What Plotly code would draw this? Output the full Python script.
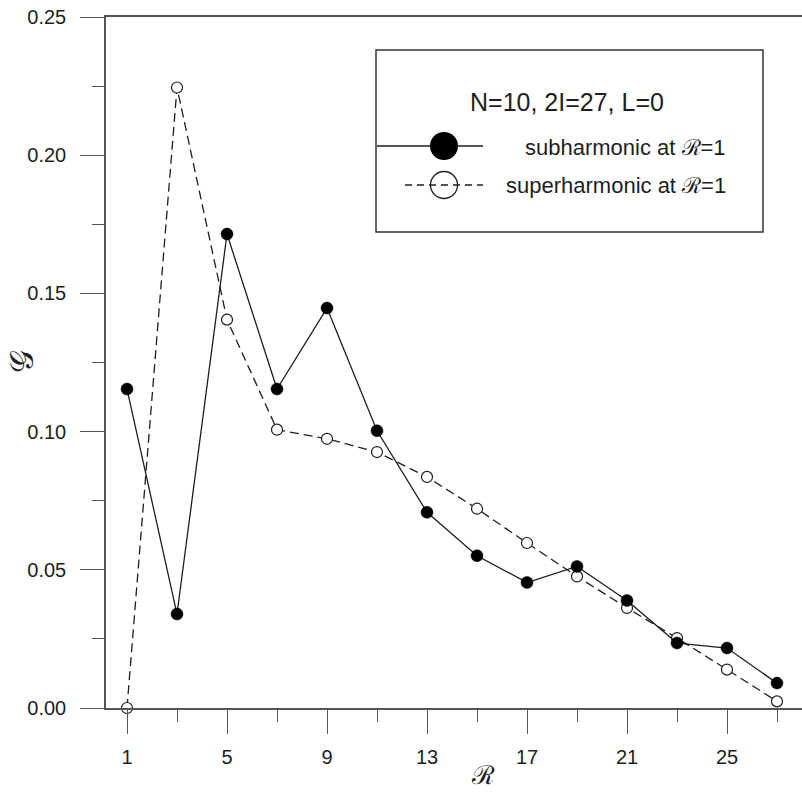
import plotly.graph_objects as go

# ---- data ----
R_values = [1, 3, 5, 7, 9, 11, 13, 15, 17, 19, 21, 23, 25, 27]
subharmonic = [0.1154, 0.0340, 0.1715, 0.1154, 0.1447, 0.1003, 0.0708,
               0.0551, 0.0454, 0.0512, 0.0389, 0.0235, 0.0217, 0.0090]
superharmonic = [0.0000, 0.2245, 0.1405, 0.1007, 0.0974, 0.0926, 0.0836,
                 0.0721, 0.0597, 0.0476, 0.0362, 0.0253, 0.0139, 0.0024]
x_tick_vals = [1, 5, 9, 13, 17, 21, 25]
x_tick_text = ["1", "5", "9", "13", "17", "21", "25"]
y_tick_vals = [0.00, 0.05, 0.10, 0.15, 0.20, 0.25]
y_tick_text = ["0.00", "0.05", "0.10", "0.15", "0.20", "0.25"]
legend_title = "N=10, 2I=27, L=0"
legend_labels = ["subharmonic at \u211b=1", "superharmonic at \u211b=1"]
x_title = "\u211b"
y_title = "\U0001D4A2"

W, H = 802, 793
L_M, R_M, T_M, B_M = 106, 0, 17, 85
PW, PH = W - L_M - R_M, H - T_M - B_M
INK = "#1e1e1e"
AX = "#555555"
FONT = "Liberation Sans, Arial, sans-serif"


def px_x(p):
    return (p - L_M) / PW


def px_y(p):
    return (H - B_M - p) / PH


fig = go.Figure()

# superharmonic (open circles, dashed)
fig.add_trace(go.Scatter(
    x=R_values, y=superharmonic, mode="lines+markers",
    line=dict(color=INK, width=1.3, dash="9px,5px"),
    marker=dict(symbol="circle", size=11, color="white",
                line=dict(color=INK, width=1.2)),
    cliponaxis=False, showlegend=False, name=legend_labels[1]))

# subharmonic (filled circles, solid)
fig.add_trace(go.Scatter(
    x=R_values, y=subharmonic, mode="lines+markers",
    line=dict(color=INK, width=1.3),
    marker=dict(symbol="circle", size=12, color="black", opacity=1,
                line=dict(color="black", width=0.5)),
    cliponaxis=False, showlegend=False, name=legend_labels[0]))

# ---- legend glyphs drawn in an overlay axis measured in pixels ----
fig.add_trace(go.Scatter(
    x=[377, 483], y=[146, 146], xaxis="x2", yaxis="y2", mode="lines",
    line=dict(color=INK, width=1.3),
    hoverinfo="skip", showlegend=False, cliponaxis=False))
fig.add_trace(go.Scatter(
    x=[444], y=[146], xaxis="x2", yaxis="y2", mode="markers",
    marker=dict(size=28, color="black", opacity=1, line=dict(width=0)),
    hoverinfo="skip", showlegend=False, cliponaxis=False))
fig.add_trace(go.Scatter(
    x=[405, 483], y=[185, 185], xaxis="x2", yaxis="y2", mode="lines",
    line=dict(color=INK, width=1.3, dash="7px,5px"),
    hoverinfo="skip", showlegend=False, cliponaxis=False))
fig.add_trace(go.Scatter(
    x=[444], y=[185], xaxis="x2", yaxis="y2", mode="markers",
    marker=dict(size=27, color="rgba(0,0,0,0)", line=dict(color=INK, width=1.3)),
    hoverinfo="skip", showlegend=False, cliponaxis=False))

shapes = [dict(type="rect", xref="x2", yref="y2", x0=376, x1=763, y0=50, y1=232,
               line=dict(color="#333333", width=1.5), fillcolor="rgba(0,0,0,0)")]

annotations = [
    dict(text=legend_title, xref="paper", yref="paper", x=px_x(567), y=px_y(102),
         showarrow=False, font=dict(family=FONT, size=25, color=INK),
         xanchor="center", yanchor="middle"),
    dict(text=legend_labels[0], xref="paper", yref="paper", x=px_x(728), y=px_y(147),
         showarrow=False, font=dict(family=FONT, size=22, color=INK),
         xanchor="right", yanchor="middle"),
    dict(text=legend_labels[1], xref="paper", yref="paper", x=px_x(728), y=px_y(185),
         showarrow=False, font=dict(family=FONT, size=22, color=INK),
         xanchor="right", yanchor="middle"),
    dict(text=x_title, xref="paper", yref="paper", x=px_x(483), y=px_y(775),
         showarrow=False, font=dict(family="DejaVu Serif, serif", size=26, color=INK),
         xanchor="center", yanchor="middle"),
    dict(text=y_title, xref="paper", yref="paper", x=px_x(22), y=px_y(362), textangle=-90,
         showarrow=False, font=dict(family="DejaVu Serif, serif", size=32, color=INK),
         xanchor="center", yanchor="middle"),
]

x_lo = 1 + (L_M - 127) / 25.0
x_hi = 1 + (W - 127) / 25.0

fig.update_layout(
    width=W, height=H,
    margin=dict(l=L_M, r=R_M, t=T_M, b=B_M, pad=0, autoexpand=False),
    paper_bgcolor="white", plot_bgcolor="white",
    font=dict(family=FONT, color=INK, size=20),
    shapes=shapes, annotations=annotations,
    xaxis=dict(range=[x_lo, x_hi], showgrid=False, zeroline=False, automargin=False,
               showline=True, linecolor=AX, linewidth=1.5, mirror=True,
               tickmode="array", tickvals=x_tick_vals, ticktext=x_tick_text,
               ticks="outside", ticklen=24, tickwidth=1.3, tickcolor=AX,
               ticklabelstandoff=6,
               minor=dict(ticks="outside", ticklen=12, tickwidth=1.3,
                          tickcolor=AX, tick0=1, dtick=2, showgrid=False),
               tickfont=dict(family=FONT, size=20, color=INK)),
    yaxis=dict(range=[0, 0.25], showgrid=False, zeroline=False, automargin=False,
               showline=True, linecolor=AX, linewidth=1.5, mirror=False,
               tickmode="array", tickvals=y_tick_vals, ticktext=y_tick_text,
               ticks="outside", ticklen=24, tickwidth=1.3, tickcolor=AX,
               ticklabelstandoff=10,
               minor=dict(ticks="outside", ticklen=12, tickwidth=1.3,
                          tickcolor=AX, tick0=0, dtick=0.025, showgrid=False),
               tickfont=dict(family=FONT, size=20, color=INK)),
    xaxis2=dict(overlaying="x", range=[L_M, W], visible=False, automargin=False,
                domain=[0, 1], fixedrange=True),
    yaxis2=dict(overlaying="y", range=[H - B_M, T_M], visible=False, automargin=False,
                domain=[0, 1], fixedrange=True),
    showlegend=False,
)

fig.write_html("out.html",
               config={"displayModeBar": False},
               post_script="document.body.style.margin='0';document.body.style.overflow='hidden';")
